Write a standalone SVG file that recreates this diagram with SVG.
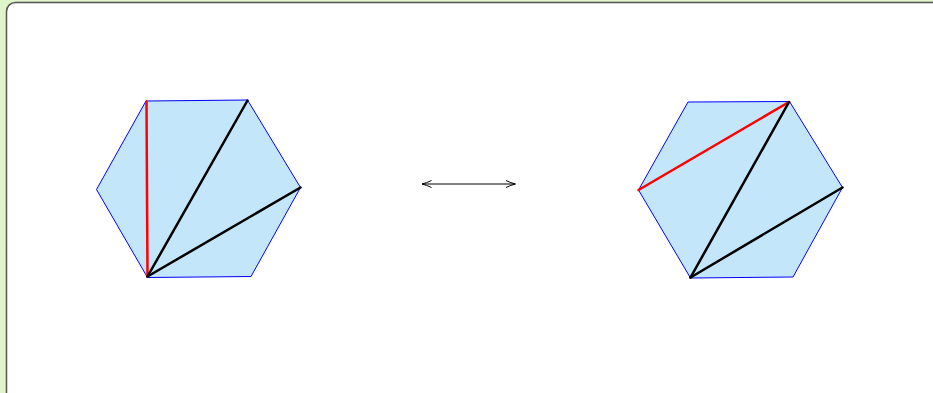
<svg xmlns="http://www.w3.org/2000/svg" width="933" height="393" viewBox="0 0 933 393">
<defs>
<style>
.hex{fill:#c3e6fb;stroke:#0000ff;stroke-width:1;stroke-linejoin:round}
.red{stroke:#ff0000;stroke-width:2.5;stroke-linecap:round;fill:none}
.blk{stroke:#000000;stroke-width:2.5;stroke-linecap:round;fill:none}
.arr{stroke:#000;stroke-width:1;fill:none}
</style>
<marker id="ah" viewBox="0 0 10 10" refX="9" refY="5" markerWidth="10" markerHeight="10" markerUnits="userSpaceOnUse" orient="auto-start-reverse">
<path d="M0,1.5 Q5,4 9.5,5 Q5,6 0,8.5" fill="none" stroke="#000" stroke-width="1"/>
</marker>
</defs>
<rect x="0" y="0" width="933" height="393" fill="#dff4c9"/>
<rect x="6.5" y="2.5" width="940" height="400" rx="9" ry="9" fill="#ffffff" stroke="#555555" stroke-width="1.5"/>
<g id="hexagon-left">
<polygon class="hex" points="146,101 247.5,100 300.5,187.5 251,276.5 147.5,277.5 96.5,189.5"/>
<line class="red" x1="146.5" y1="101.5" x2="147.5" y2="276.5"/>
<line class="blk" x1="147.5" y1="276.5" x2="247.5" y2="100.5"/>
<line class="blk" x1="147.5" y1="276.5" x2="300.5" y2="187.5"/>
</g>
<g id="hexagon-right">
<polygon class="hex" points="688,102 789.5,101.5 842.5,187.5 793,277 690.5,278 638.5,190"/>
<line class="red" x1="638.5" y1="190" x2="789" y2="102"/>
<line class="blk" x1="690.5" y1="277.5" x2="789" y2="102"/>
<line class="blk" x1="690.5" y1="277.5" x2="842.5" y2="187.5"/>
</g>
<g id="connectors">
<line class="arr" x1="422.5" y1="184" x2="515" y2="184" marker-start="url(#ah)" marker-end="url(#ah)"/>
</g>
</svg>
